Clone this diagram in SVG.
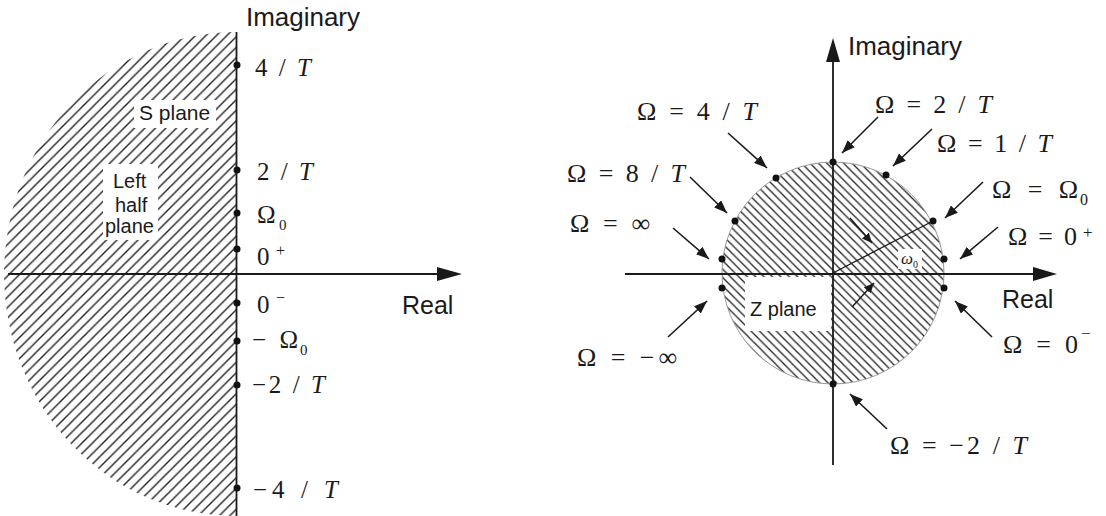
<svg xmlns="http://www.w3.org/2000/svg" width="1106" height="516" viewBox="0 0 1106 516">
<style>
.sans{font-family:"Liberation Sans",Arial,sans-serif;fill:#1a1a1a}
.ser{font-family:"Liberation Serif","Times New Roman",serif;fill:#1a1a1a}
.it{font-style:italic}
.ax{stroke:#1a1a1a;stroke-width:1.8;fill:none}
.con{stroke:#1a1a1a;stroke-width:1.6;fill:none;marker-end:url(#ah)}
.cons{stroke:#1a1a1a;stroke-width:1.4;fill:none;marker-end:url(#ahs)}
.dot{fill:#111}
</style>
<defs>
<pattern id="hl" patternUnits="userSpaceOnUse" width="10.5" height="10.5">
<path d="M0,10.5 L10.5,0 M-1,1 L1,-1 M9.5,11.5 L11.5,9.5" stroke="#222" stroke-width="1.4"/>
</pattern>
<pattern id="hr" patternUnits="userSpaceOnUse" width="8.4" height="8.4">
<path d="M0,0 L8.4,8.4 M-1,7.4 L1,9.4 M7.4,-1 L9.4,1" stroke="#222" stroke-width="1.3"/>
</pattern>
<clipPath id="cl">
<path d="M236,32 A232,242 0 0 0 236,516 Z"/>
</clipPath>
<marker id="ah" markerUnits="userSpaceOnUse" markerWidth="14" markerHeight="10" refX="13" refY="5" orient="auto">
<path d="M0,0 L13,5 L0,10 Z" fill="#1a1a1a"/>
</marker>
<marker id="ahs" markerUnits="userSpaceOnUse" markerWidth="11" markerHeight="9" refX="10" refY="4.5" orient="auto">
<path d="M0,0 L10,4.5 L0,9 Z" fill="#1a1a1a"/>
</marker>
</defs>
<rect width="1106" height="516" fill="#fff"/>

<!-- Left: S plane -->
<g id="s-plane">
<rect x="0" y="0" width="237" height="516" fill="url(#hl)" clip-path="url(#cl)"/>
<rect x="134" y="100" width="82" height="28" fill="#fff"/>
<rect x="103" y="164" width="55" height="76" fill="#fff"/>
<text class="sans" x="139" y="120" font-size="21">S plane</text>
<text class="sans" x="113" y="188" font-size="20">Left</text>
<text class="sans" x="115" y="212" font-size="20">half</text>
<text class="sans" x="105" y="233" font-size="20">plane</text>
</g>
<g id="s-axes">
<line class="ax" x1="236.5" y1="32" x2="236.5" y2="516"/>
<line class="ax" x1="8" y1="274" x2="440" y2="274"/>
<polygon points="462,274 437,267 437,281" fill="#1a1a1a"/>
<text class="sans" x="246" y="26" font-size="25" textLength="114" lengthAdjust="spacingAndGlyphs">Imaginary</text>
<text class="sans" x="402" y="314" font-size="25">Real</text>
</g>
<g id="s-points">
<circle class="dot" cx="237" cy="65" r="3.5"/>
<circle class="dot" cx="237" cy="170" r="3.5"/>
<circle class="dot" cx="237" cy="213" r="3.5"/>
<circle class="dot" cx="237" cy="249" r="3.5"/>
<circle class="dot" cx="237" cy="303" r="3.5"/>
<circle class="dot" cx="237" cy="341" r="3.5"/>
<circle class="dot" cx="237" cy="385" r="3.5"/>
<circle class="dot" cx="237" cy="488" r="3.5"/>
<text class="ser" x="255" y="76" font-size="25" textLength="56" lengthAdjust="spacing">4 / <tspan class="it">T</tspan></text>
<text class="ser" x="257" y="180" font-size="25" textLength="56" lengthAdjust="spacing">2 / <tspan class="it">T</tspan></text>
<text class="ser" x="257" y="223" font-size="25">Ω</text>
<text class="ser" x="279" y="230" font-size="15">0</text>
<text class="ser" x="257" y="265" font-size="25">0</text>
<text class="ser" x="276" y="256" font-size="16">+</text>
<text class="ser" x="257" y="313" font-size="25">0</text>
<text class="ser" x="276" y="303" font-size="16">−</text>
<text class="ser" x="252" y="348" font-size="25" textLength="46" lengthAdjust="spacing">− Ω</text>
<text class="ser" x="300" y="355" font-size="15">0</text>
<text class="ser" x="252" y="393" font-size="25" textLength="73" lengthAdjust="spacing">−2 / <tspan class="it">T</tspan></text>
<text class="ser" x="253" y="498" font-size="25" textLength="85" lengthAdjust="spacing">−4 / <tspan class="it">T</tspan></text>
</g>

<!-- Right: Z plane -->
<g id="z-plane">
<circle cx="833" cy="273" r="111" fill="url(#hr)"/>
<circle cx="833" cy="273" r="111" fill="none" stroke="#999" stroke-width="1"/>
<rect x="745" y="277" width="86" height="54" fill="#fff"/>
<rect x="898" y="249" width="24" height="20" fill="#fff"/>
<text class="sans" x="750" y="316" font-size="20">Z plane</text>
<line class="ax" x1="833" y1="273" x2="933" y2="221" style="stroke-width:1.3"/>
<text class="ser it" x="901" y="264" font-size="17">ω</text>
<text class="ser" x="913" y="268" font-size="10">0</text>
</g>
<g id="z-axes">
<line class="ax" x1="833" y1="465" x2="833" y2="60"/>
<polygon points="833,38 826,62 840,62" fill="#1a1a1a"/>
<line class="ax" x1="625" y1="274" x2="1035" y2="274"/>
<polygon points="1057,274 1033,267 1033,281" fill="#1a1a1a"/>
<text class="sans" x="848" y="55" font-size="25" textLength="114" lengthAdjust="spacingAndGlyphs">Imaginary</text>
<text class="sans" x="1002" y="308" font-size="25">Real</text>
</g>
<g id="z-points">
<circle class="dot" cx="833" cy="162" r="3.5"/>
<circle class="dot" cx="886" cy="175" r="3.5"/>
<circle class="dot" cx="933" cy="221" r="3.5"/>
<circle class="dot" cx="944" cy="259" r="3.5"/>
<circle class="dot" cx="944" cy="288" r="3.5"/>
<circle class="dot" cx="833" cy="384" r="3.5"/>
<circle class="dot" cx="776" cy="178" r="3.5"/>
<circle class="dot" cx="735" cy="221" r="3.5"/>
<circle class="dot" cx="722" cy="259" r="3.5"/>
<circle class="dot" cx="722" cy="288" r="3.5"/>
</g>
<g id="z-labels">
<text class="ser" x="637" y="120" font-size="26" textLength="120" lengthAdjust="spacing">Ω = 4 / <tspan class="it">T</tspan></text>
<text class="ser" x="567" y="182" font-size="26" textLength="118" lengthAdjust="spacing">Ω = 8 / <tspan class="it">T</tspan></text>
<text class="ser" x="570" y="232" font-size="26" textLength="80" lengthAdjust="spacing">Ω = ∞</text>
<text class="ser" x="577" y="366" font-size="26" textLength="100" lengthAdjust="spacing">Ω = −∞</text>
<text class="ser" x="875" y="113" font-size="26" textLength="117" lengthAdjust="spacing">Ω = 2 / <tspan class="it">T</tspan></text>
<text class="ser" x="937" y="152" font-size="26" textLength="115" lengthAdjust="spacing">Ω = 1 / <tspan class="it">T</tspan></text>
<text class="ser" x="992" y="198" font-size="26" textLength="86" lengthAdjust="spacing">Ω = Ω</text>
<text class="ser" x="1080" y="205" font-size="16">0</text>
<text class="ser" x="1008" y="245" font-size="26" textLength="69" lengthAdjust="spacing">Ω = 0</text>
<text class="ser" x="1083" y="238" font-size="17">+</text>
<text class="ser" x="1003" y="353" font-size="26" textLength="75" lengthAdjust="spacing">Ω = 0</text>
<text class="ser" x="1081" y="339" font-size="17">−</text>
<text class="ser" x="890" y="454" font-size="26" textLength="137" lengthAdjust="spacing">Ω = −2 / <tspan class="it">T</tspan></text>
</g>
<g id="connectors">
<line class="con" x1="728" y1="133" x2="767" y2="168"/>
<line class="con" x1="690" y1="177" x2="727" y2="213"/>
<line class="con" x1="673" y1="228" x2="709" y2="259"/>
<line class="con" x1="668" y1="337" x2="707" y2="301"/>
<line class="con" x1="878" y1="117" x2="842" y2="153"/>
<line class="con" x1="932" y1="129" x2="893" y2="166"/>
<line class="con" x1="983" y1="182" x2="945" y2="218"/>
<line class="con" x1="998" y1="227" x2="960" y2="259"/>
<line class="con" x1="992" y1="337" x2="955" y2="301"/>
<line class="con" x1="887" y1="429" x2="850" y2="394"/>
<line class="cons" x1="850" y1="218" x2="872" y2="243"/>
<line class="cons" x1="852" y1="307" x2="874" y2="283"/>
</g>
</svg>
